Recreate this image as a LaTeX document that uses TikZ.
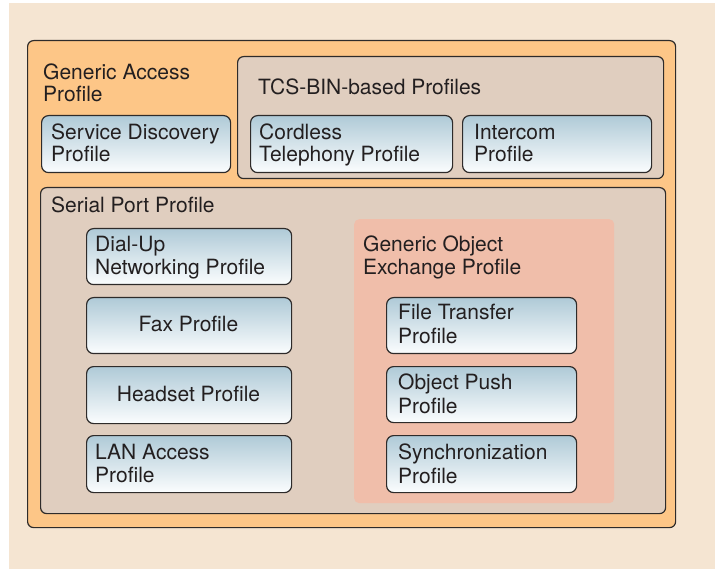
\documentclass[tikz,border=0pt]{standalone}
\usepackage{fontspec}
\setmainfont{TeX Gyre Heros}
\definecolor{bgbeige}{HTML}{F5E5D2}
\definecolor{orangefill}{HTML}{FDC687}
\definecolor{tanfill}{HTML}{E0CEBF}
\definecolor{salmonfill}{HTML}{F0BEAA}
\definecolor{bluetop}{HTML}{AFCAD7}
\definecolor{bluebot}{HTML}{FBFDFE}
\definecolor{edge}{HTML}{2E2B2A}
\definecolor{ink}{HTML}{231F20}
\tikzset{
  outerbox/.style={draw=edge, line width=1.2pt, rounded corners=6pt, fill=orangefill, anchor=north west, inner sep=0pt},
  groupbox/.style={draw=edge, line width=1.2pt, rounded corners=6pt, fill=tanfill, anchor=north west, inner sep=0pt},
  goepbox/.style={draw=none, rounded corners=5pt, fill=salmonfill, anchor=north west, inner sep=0pt},
  profbox/.style={draw=edge, line width=1.2pt, rounded corners=7pt, top color=bluetop, bottom color=bluebot, anchor=north west, inner sep=0pt},
  lbl/.style={anchor=base west, inner sep=0pt, text=ink, font=\fontsize{21}{23}\selectfont},
  clbl/.style={anchor=base, inner sep=0pt, text=ink, font=\fontsize{21}{23}\selectfont}
}
\begin{document}
\begin{tikzpicture}[x=1pt, y=-1pt]
\useasboundingbox (0,0) rectangle (715,569);
\fill[bgbeige] (9,3) rectangle (715,569);
% outer Generic Access Profile
\node[outerbox, minimum width=648pt, minimum height=487pt] (gap) at (27,40) {};
\node[lbl] (gapl1) at (43,80) {Generic Access};
\node[lbl] (gapl2) at (43,102) {Profile};
% Service discovery
\node[profbox, minimum width=189pt, minimum height=57pt] (sdp) at (41,115) {};
\node[lbl] (sdpl1) at (51,140) {Service Discovery};
\node[lbl] (sdpl2) at (51,162) {Profile};
% TCS-BIN group
\node[groupbox, minimum width=426pt, minimum height=122pt] (tcs) at (237,56) {};
\node[lbl] (tcsl) at (258,95) {TCS-BIN-based Profiles};
\node[profbox, minimum width=202pt, minimum height=57pt] (ctp) at (250,115) {};
\node[lbl] (ctpl1) at (259,140) {Cordless};
\node[lbl] (ctpl2) at (259,162) {Telephony Profile};
\node[profbox, minimum width=189pt, minimum height=57pt] (icp) at (462,115) {};
\node[lbl] (icpl1) at (474,140) {Intercom};
\node[lbl] (icpl2) at (474,162) {Profile};
% Serial Port group
\node[groupbox, minimum width=625pt, minimum height=326pt] (spp) at (40,187) {};
\node[lbl] (sppl) at (51,213) {Serial Port Profile};
\node[profbox, minimum width=205pt, minimum height=56pt] (dun) at (86,228) {};
\node[lbl] (dunl1) at (95,252) {Dial-Up};
\node[lbl] (dunl2) at (95,275) {Networking Profile};
\node[profbox, minimum width=205pt, minimum height=56pt] (fax) at (86,297) {};
\node[clbl] (faxl) at (188.5,331) {Fax Profile};
\node[profbox, minimum width=205pt, minimum height=57pt] (hsp) at (86,366) {};
\node[clbl] (hspl) at (188.5,401) {Headset Profile};
\node[profbox, minimum width=205pt, minimum height=57pt] (lan) at (86,435) {};
\node[lbl] (lanl1) at (95,459) {LAN Access};
\node[lbl] (lanl2) at (95,482) {Profile};
% GOEP
\node[goepbox, minimum width=260pt, minimum height=284pt] (goep) at (354,219) {};
\node[lbl] (goepl1) at (363,252) {Generic Object};
\node[lbl] (goepl2) at (363,275) {Exchange Profile};
\node[profbox, minimum width=190pt, minimum height=56pt] (ftp) at (386,297) {};
\node[lbl] (ftpl1) at (398,320) {File Transfer};
\node[lbl] (ftpl2) at (398,344) {Profile};
\node[profbox, minimum width=190pt, minimum height=56pt] (opp) at (386,366) {};
\node[lbl] (oppl1) at (398,389) {Object Push};
\node[lbl] (oppl2) at (398,413) {Profile};
\node[profbox, minimum width=190pt, minimum height=57pt] (syn) at (386,435) {};
\node[lbl] (synl1) at (398,459) {Synchronization};
\node[lbl] (synl2) at (398,483) {Profile};
\end{tikzpicture}
\end{document}
